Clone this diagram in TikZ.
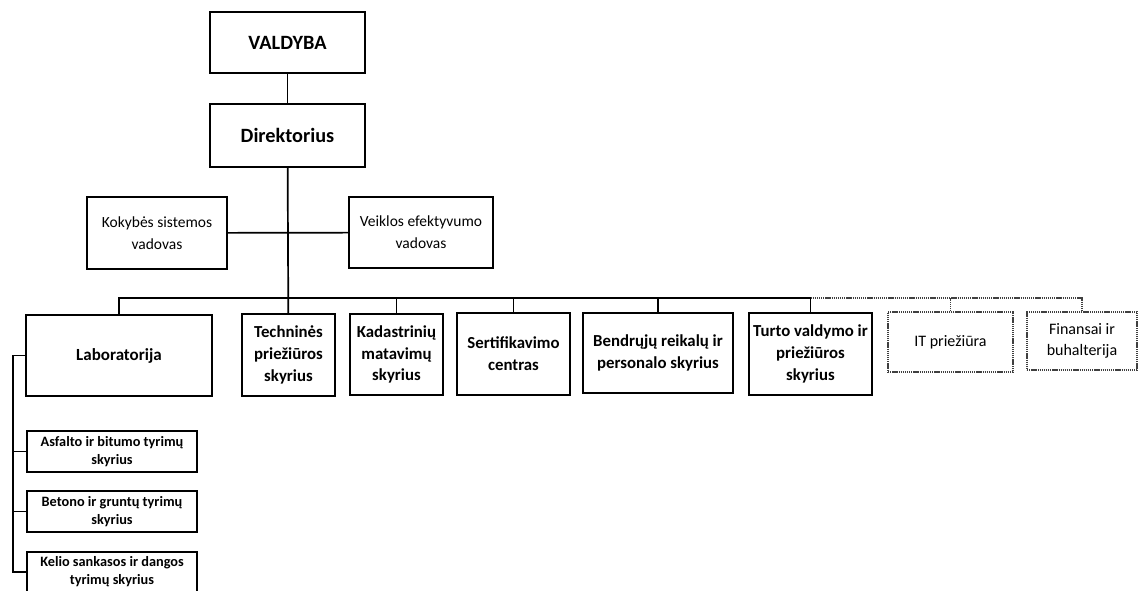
\documentclass[tikz,border=0pt]{standalone}
\usepackage{fontspec}
\setmainfont{Carlito}
\usepackage{tikz}
\usetikzlibrary{calc}

\tikzset{
  unit/.style={draw, line width=2pt, align=center, inner sep=2pt,
    font=\bfseries\fontsize{16.8}{21.7}\selectfont},
  topunit/.style={unit, font=\bfseries\fontsize{20.3}{24}\selectfont},
  staff/.style={unit, line width=1.8pt, font=\fontsize{15.5}{21.7}\selectfont},
  lab/.style={unit, line width=1.5pt, font=\bfseries\fontsize{14.3}{18}\selectfont},
  outsourced/.style={draw=black!75, line width=1.5pt, dash pattern=on 1.3pt off 0.8pt,
    align=center, font=\fontsize{16}{21}\selectfont},
  link/.style={line width=1.7pt},
  dlink/.style={draw=black!75, line width=1.5pt, dash pattern=on 1.3pt off 0.8pt}
}

\begin{document}
\begin{tikzpicture}[x=1pt,y=-1pt]
\fill[white] (0,0) rectangle (1142,591);
\useasboundingbox (0,0) rectangle (1142,591);

\node[topunit, minimum width=155pt, minimum height=61pt] (valdyba) at (287.5,42.5) {VALDYBA};
\node[topunit, minimum width=155pt, minimum height=63pt] (direktorius) at (287.5,135.5) {Direktorius};

\node[staff, minimum width=140pt, minimum height=72pt] (kokybe) at (157,233) {Kokybės sistemos\\vadovas};
\node[staff, minimum width=144pt, minimum height=71pt] (veikla) at (421,232.5) {Veiklos efektyvumo\\vadovas};

\node[unit, font=\bfseries\fontsize{17}{21}\selectfont, minimum width=186pt, minimum height=81pt] (laboratorija) at (119,355.5) {Laboratorija};
\node[unit, minimum width=93pt, minimum height=82pt] (technine) at (288.5,355) {Techninės\\priežiūros\\skyrius};
\node[unit, minimum width=93pt, minimum height=81pt] (kadastras) at (396.5,354.5) {Kadastrinių\\matavimų\\skyrius};
\node[unit, minimum width=113pt, minimum height=82pt] (sertif) at (513.5,354) {Sertifikavimo\\centras};
\node[unit, minimum width=150pt, minimum height=80pt] (bendrieji) at (658,353) {Bendrųjų reikalų ir\\personalo skyrius};
\node[unit, minimum width=123pt, minimum height=82pt] (turtas) at (810.5,354) {Turto valdymo ir\\priežiūros\\skyrius};

\node[outsourced, minimum width=125pt, minimum height=60pt] (it) at (950.5,342) {IT priežiūra};
\node[outsourced, minimum width=110pt, minimum height=58pt] (finansai) at (1082,341) {Finansai ir\\buhalterija};

\node[lab, minimum width=170pt, minimum height=41pt] (asfaltas) at (112,451.5) {Asfalto ir bitumo tyrimų\\skyrius};
\node[lab, minimum width=170pt, minimum height=41pt] (betonas) at (112,511.5) {Betono ir gruntų tyrimų\\skyrius};
\node[lab, minimum width=170pt, minimum height=40pt] (kelias) at (112,572) {Kelio sankasos ir dangos\\tyrimų skyrius};

\coordinate (bus) at (0,298);
\coordinate (spine) at (13,0);

\draw[link] (valdyba) -- (direktorius);
\draw[link] (direktorius) -- (technine);
\draw[link] (kokybe) -- (veikla);
\draw[link] (laboratorija.north) |- (bus -| turtas.north) -- (turtas.north);
\foreach \n in {kadastras,sertif,bendrieji}
  \draw[link] (\n.north) -- (\n.north |- bus);
\draw[dlink] (bus -| turtas.north) -| (finansai.north);
\draw[dlink] (it.north) -- (it.north |- bus);

\draw[link] (laboratorija.west) -| (spine |- kelias.west) -- (kelias.west);
\foreach \n in {asfaltas,betonas}
  \draw[link] (\n.west) -- (\n.west -| spine);
\end{tikzpicture}
\end{document}
